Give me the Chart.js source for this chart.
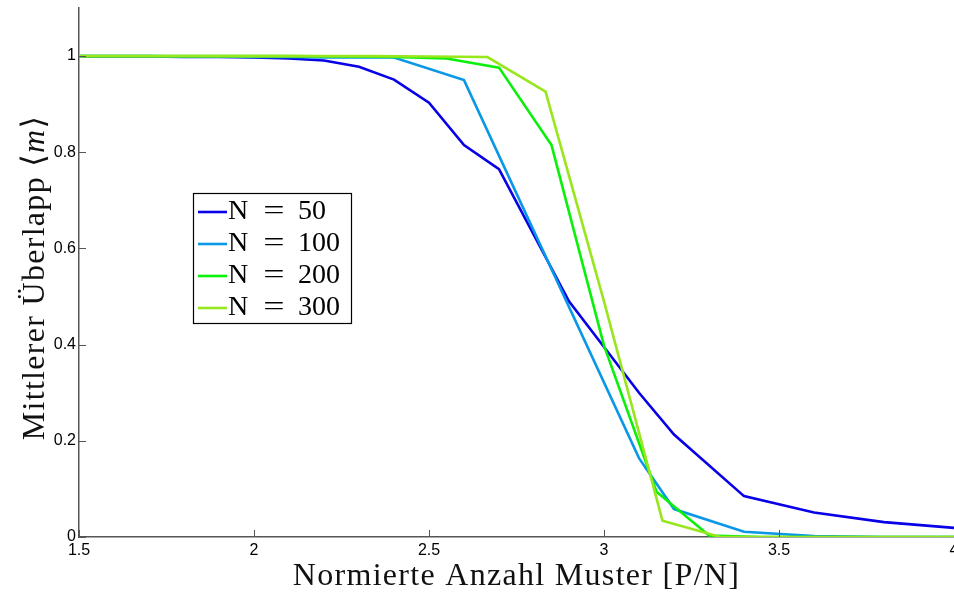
<!DOCTYPE html>
<html>
<head>
<meta charset="utf-8">
<script src="https://cdn.jsdelivr.net/npm/chart.js@4.4.1/dist/chart.umd.min.js"></script>
<style>
  body { margin: 0; background: #fff; }
  #wrap { width: 954px; height: 594px; }
</style>
</head>
<body>
<div id="wrap"><canvas id="chart" width="954" height="594"></canvas></div>
<script>
// P/N values and mean overlap, one pair of arrays per network size
const xs50 = [1.5, 1.6, 1.7, 1.8, 1.9, 2.0, 2.1, 2.2, 2.3, 2.4, 2.5, 2.6, 2.7, 2.9, 3.0, 3.1, 3.2, 3.4, 3.6, 3.8, 4.0];
const ys50 = [0.999, 0.999, 0.999, 0.998, 0.998, 0.997, 0.995, 0.991, 0.978, 0.951, 0.903, 0.815, 0.765, 0.490, 0.395, 0.300, 0.213, 0.085, 0.051, 0.031, 0.019];

const xs100 = [1.5, 1.6, 1.7, 1.8, 1.9, 2.0, 2.1, 2.2, 2.3, 2.4, 2.6, 3.1, 3.2, 3.4, 3.6, 3.8, 4.0];
const ys100 = [1.0, 1.0, 1.0, 0.999, 0.999, 0.998, 0.998, 0.997, 0.997, 0.997, 0.950, 0.164, 0.058, 0.011, 0.002, 0.0, 0.0];

const xs200 = [1.5, 1.65, 1.8, 1.95, 2.1, 2.25, 2.4, 2.55, 2.7, 2.85, 3.0, 3.15, 3.3, 3.45, 3.6, 3.75, 3.9, 4.05];
const ys200 = [1.0, 1.0, 1.0, 1.0, 1.0, 0.999, 0.998, 0.995, 0.976, 0.815, 0.398, 0.094, 0.003, 0.0, 0.0, 0.0, 0.0, 0.0];

const xs300 = [1.5, 1.667, 1.833, 2.0, 2.167, 2.333, 2.5, 2.667, 2.833, 3.0, 3.167, 3.333, 3.5, 3.667, 3.833, 4.0];
const ys300 = [1.0, 1.0, 1.0, 1.0, 1.0, 1.0, 0.999, 0.998, 0.926, 0.490, 0.034, 0.0, 0.0, 0.0, 0.0, 0.0];

const seriesNames = ["50", "100", "200", "300"];
const seriesColors = ["#0800e6", "#0a98e6", "#0af00a", "#98e61c"];

const xTicks = [1.5, 2, 2.5, 3, 3.5, 4];
const yTicks = [0, 0.2, 0.4, 0.6, 0.8, 1];

const xTitle = "Normierte Anzahl Muster [P/N]";
// y title in pieces so the m can be italic
const yTitleParts = [["Mittlerer \u00dcberlapp \u27e8", false], ["m", true], ["\u27e9", false]];

const serif = "'Liberation Serif', 'DejaVu Serif', serif";
const sans = "'Liberation Sans', Arial, sans-serif";
const axisGray = "#555";

function toPoints(xs, ys) {
  return xs.map((x, i) => ({ x: x, y: ys[i] }));
}

const allX = [xs50, xs100, xs200, xs300];
const allY = [ys50, ys100, ys200, ys300];

const datasets = seriesNames.map((n, i) => ({
  label: "N = " + n,
  data: toPoints(allX[i], allY[i]),
  borderColor: seriesColors[i],
  backgroundColor: seriesColors[i],
  borderWidth: 2.6,
  pointRadius: 0,
  showLine: true,
  tension: 0,
  order: 4 - i   // later sizes drawn on top, like the original
}));

// ticks pointing into the plot, as in the original figure
const innerTicks = {
  id: "innerTicks",
  afterDraw(chart) {
    const { ctx, chartArea: a, scales } = chart;
    ctx.save();
    ctx.strokeStyle = axisGray;
    ctx.lineWidth = 1;
    xTicks.forEach(v => {
      const px = Math.round(scales.x.getPixelForValue(v)) + 0.5;
      ctx.beginPath();
      ctx.moveTo(px, a.bottom);
      ctx.lineTo(px, a.bottom - 7);
      ctx.stroke();
    });
    yTicks.forEach(v => {
      const py = Math.round(scales.y.getPixelForValue(v)) + 0.5;
      ctx.beginPath();
      ctx.moveTo(a.left, py);
      ctx.lineTo(a.left + 7, py);
      ctx.stroke();
    });
    ctx.restore();
  }
};

// LaTeX-like axis titles: wide serif with a little letter spacing
const axisTitles = {
  id: "axisTitles",
  afterDraw(chart) {
    const { ctx, chartArea: a } = chart;
    const size = 32;
    ctx.save();
    ctx.fillStyle = "#111";
    ctx.letterSpacing = "1.3px";
    ctx.textBaseline = "middle";
    ctx.textAlign = "left";

    ctx.font = size + "px " + serif;
    const wx = ctx.measureText(xTitle).width;
    ctx.fillText(xTitle, (a.left + a.right) / 2 - wx / 2, chart.height - 17);

    const widths = yTitleParts.map(([t, it]) => {
      ctx.font = (it ? "italic " : "") + size + "px " + serif;
      return ctx.measureText(t).width;
    });
    const total = widths.reduce((s, w) => s + w, 0);
    ctx.translate(36, (a.top + a.bottom) / 2 + 5);
    ctx.rotate(-Math.PI / 2);
    let cx = -total / 2;
    yTitleParts.forEach(([t, it], i) => {
      ctx.font = (it ? "italic " : "") + size + "px " + serif;
      ctx.fillText(t, cx, 0);
      cx += widths[i];
    });
    ctx.restore();
  }
};

// boxed legend sitting inside the plot on the left
const boxLegend = {
  id: "boxLegend",
  afterDraw(chart) {
    const ctx = chart.ctx;
    const left = 193, top = 193, w = 158, rowH = 32;
    const h = rowH * chart.data.datasets.length + 2;
    ctx.save();
    ctx.fillStyle = "#fff";
    ctx.fillRect(left, top, w, h);
    ctx.strokeStyle = "#000";
    ctx.lineWidth = 1.2;
    ctx.strokeRect(left + 0.5, top + 0.5, w, h);
    ctx.font = "28px " + serif;
    ctx.textBaseline = "middle";
    chart.data.datasets.forEach((ds, i) => {
      const cy = top + 19 + i * rowH;
      ctx.strokeStyle = ds.borderColor;
      ctx.lineWidth = 2.6;
      ctx.beginPath();
      ctx.moveTo(left + 5, cy);
      ctx.lineTo(left + 34, cy);
      ctx.stroke();
      ctx.fillStyle = "#000";
      ctx.textAlign = "left";
      ctx.fillText("N", left + 35, cy);
      ctx.save();
      ctx.scale(1.35, 1);
      ctx.textAlign = "center";
      ctx.fillText("=", (left + 81) / 1.35, cy);
      ctx.restore();
      ctx.textAlign = "left";
      ctx.fillText(seriesNames[i], left + 105, cy);
    });
    ctx.restore();
  }
};

new Chart(document.getElementById("chart"), {
  type: "scatter",
  data: { datasets: datasets },
  options: {
    responsive: false,
    animation: false,
    layout: { padding: { top: 8, right: 0, left: 0, bottom: 0 } },
    plugins: {
      legend: { display: false },
      tooltip: { enabled: false }
    },
    scales: {
      x: {
        type: "linear",
        min: 1.5,
        max: 4,
        afterBuildTicks: s => { s.ticks = xTicks.map(v => ({ value: v })); },
        afterFit: s => { s.height = 57; s.paddingLeft = 0; s.paddingRight = 0; },
        grid: { display: false, drawTicks: false },
        border: { display: true, color: axisGray, width: 1.5 },
        ticks: {
          padding: 4,
          maxRotation: 0,
          color: "#000",
          font: { family: sans, size: 16 },
          callback: v => String(+v.toFixed(2))
        },
        title: { display: false }
      },
      y: {
        type: "linear",
        min: 0,
        max: 1.1,
        afterBuildTicks: s => { s.ticks = yTicks.map(v => ({ value: v })); },
        afterFit: s => { s.width = 79; s.paddingTop = 0; s.paddingBottom = 0; },
        grid: { display: false, drawTicks: false },
        border: { display: true, color: axisGray, width: 1.5 },
        ticks: {
          padding: 3,
          color: "#000",
          font: { family: sans, size: 16 },
          callback: v => String(+v.toFixed(2))
        },
        title: { display: false }
      }
    }
  },
  plugins: [innerTicks, axisTitles, boxLegend]
});
</script>
</body>
</html>
